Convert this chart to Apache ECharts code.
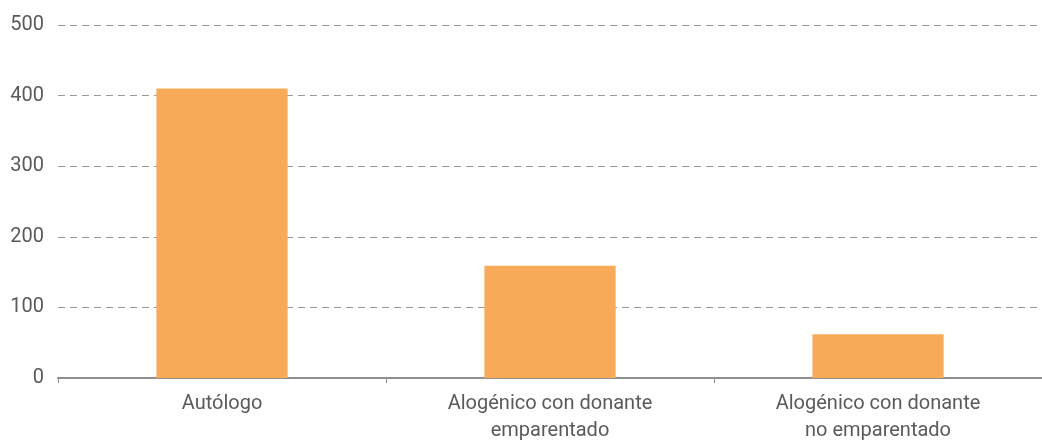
<!DOCTYPE html>
<html>
<head>
<meta charset="utf-8">
<script src="https://cdn.jsdelivr.net/npm/echarts@6/dist/echarts.min.js"></script>
<style>
  html, body { margin: 0; padding: 0; background: #fff; }
  #main { width: 1042px; height: 444px; }
</style>
</head>
<body>
<div id="main"></div>
<script>
var categories = ['Autólogo', 'Alogénico con donante\nemparentado', 'Alogénico con donante\nno emparentado'];
var values = [410, 159, 62];
var yTicks = [0, 100, 200, 300, 400, 500];

var chart = echarts.init(document.getElementById('main'));
var option = {
    animation: false,
    grid: {
        left: 58,
        right: -6,
        top: 25,
        bottom: 64,
        containLabel: false
    },
    xAxis: {
        type: 'category',
        data: categories,
        axisLine: { lineStyle: { color: '#8f8f8f', width: 2 } },
        axisTick: { show: true, length: 5, lineStyle: { color: '#8f8f8f' } },
        axisLabel: {
            color: '#5a5a5a',
            fontFamily: 'Roboto',
            fontSize: 20,
            lineHeight: 27,
            margin: 12
        }
    },
    yAxis: {
        type: 'value',
        min: yTicks[0],
        max: yTicks[yTicks.length - 1],
        interval: 100,
        axisLine: { show: false },
        axisTick: { show: false },
        axisLabel: {
            color: '#5a5a5a',
            fontFamily: 'Roboto',
            fontSize: 20,
            margin: 14
        },
        splitLine: {
            lineStyle: { color: '#999', type: [7, 5], width: 1 }
        }
    },
    series: [{
        type: 'bar',
        data: values,
        barWidth: '40%',
        itemStyle: { color: '#F9AA59' }
    }]
};
chart.setOption(option);
</script>
</body>
</html>
